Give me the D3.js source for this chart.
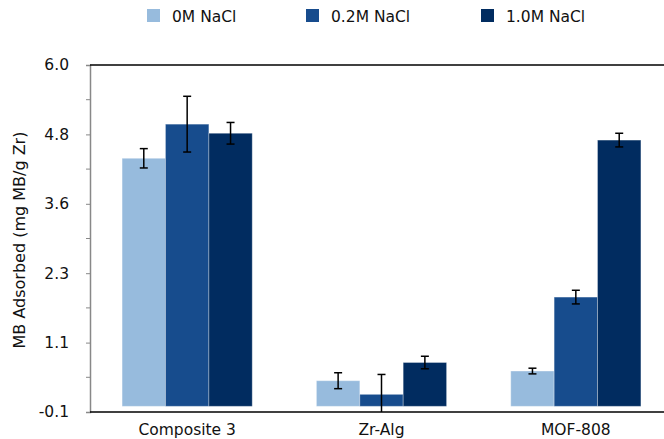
<!DOCTYPE html>
<html><head><meta charset="utf-8">
<script src="https://cdn.jsdelivr.net/npm/d3@7"></script>
<style>
body{margin:0;background:#fff;}
text{font-family:"DejaVu Sans",Verdana,sans-serif;fill:#111;}
</style></head>
<body><svg id="c" width="664" height="439"></svg>
<script>
const categories = ["Composite 3", "Zr-Alg", "MOF-808"];
const seriesNames = ["0M NaCl", "0.2M NaCl", "1.0M NaCl"];
const seriesColors = ["#97bbdd", "#174c8d", "#012c60"];
const values0M   = [4.36, 0.45, 0.62];
const values02M  = [4.96, 0.21, 1.92];
const values10M  = [4.80, 0.77, 4.68];
const err0M  = [0.17, 0.14, 0.05];
const err02M = [0.49, 0.35, 0.12];
const err10M = [0.19, 0.11, 0.12];
const yTickValues = [-0.1, 1.12, 2.34, 3.56, 4.78, 6.0];
const yTickLabels = ["-0.1", "1.1", "2.3", "3.6", "4.8", "6.0"];

const seriesVals = [values0M, values02M, values10M];
const seriesErr = [err0M, err02M, err10M];

const svg = d3.select("#c");
const mLeft = 90, mRight = 673, mTop = 65, mBottom = 412;

const x0 = d3.scaleBand().domain(categories).range([mLeft, mRight]).paddingInner(0).paddingOuter(0);
const x1 = d3.scaleBand().domain(seriesNames).range([0, x0.bandwidth()]).paddingOuter(0.74).paddingInner(0);
const y = d3.scaleLinear().domain([-0.1, 6.0]).range([mBottom, mTop]).clamp(true);

// bars
const data = [];
categories.forEach((c, ci) => seriesNames.forEach((s, si) => {
  data.push({c, s, si, v: seriesVals[si][ci], e: seriesErr[si][ci]});
}));

svg.append("g").selectAll("rect").data(data).join("rect")
  .attr("x", d => x0(d.c) + x1(d.s))
  .attr("width", x1.bandwidth())
  .attr("y", d => y(d.v))
  .attr("height", d => y(0) - y(d.v))
  .attr("fill", d => seriesColors[d.si])
  .attr("stroke", "rgba(255,255,255,0.3)")
  .attr("stroke-width", 1);

// error bars
const eg = svg.append("g").attr("stroke", "#000").attr("stroke-width", 1.5);
data.forEach(d => {
  const cx = x0(d.c) + x1(d.s) + x1.bandwidth() / 2;
  const yt = y(d.v + d.e), yb = y(d.v - d.e);
  eg.append("line").attr("x1", cx).attr("x2", cx).attr("y1", yt).attr("y2", yb);
  eg.append("line").attr("x1", cx - 4).attr("x2", cx + 4).attr("y1", yt).attr("y2", yt);
  if (d.v - d.e > -0.1) eg.append("line").attr("x1", cx - 4).attr("x2", cx + 4).attr("y1", yb).attr("y2", yb);
});

// y axis
const yAxis = d3.axisLeft(y).tickValues(yTickValues).tickFormat((d, i) => yTickLabels[i]).tickSize(4).tickPadding(17);
const ga = svg.append("g").attr("transform", `translate(${mLeft},0)`).call(yAxis);
ga.select(".domain").attr("stroke", "#888").attr("stroke-width", 1.5);
ga.selectAll(".tick line").attr("stroke", "#888");
ga.selectAll(".tick text").attr("font-size", 15.5).attr("fill", "#111")
  .attr("font-family", "'DejaVu Sans',Verdana,sans-serif");
const minor = d3.range(5).map(i => (yTickValues[i] + yTickValues[i + 1]) / 2);
svg.append("g").selectAll("line").data(minor).join("line")
  .attr("x1", mLeft - 4).attr("x2", mLeft).attr("y1", d => y(d)).attr("y2", d => y(d))
  .attr("stroke", "#888");

// frame lines top and bottom
svg.append("line").attr("x1", mLeft).attr("x2", 664).attr("y1", mTop).attr("y2", mTop).attr("stroke", "#000").attr("stroke-width", 1.5);
svg.append("line").attr("x1", mLeft).attr("x2", 664).attr("y1", mBottom).attr("y2", mBottom).attr("stroke", "#000").attr("stroke-width", 1.5);

// x labels
svg.append("g").selectAll("text").data(categories).join("text")
  .attr("x", d => x0(d) + x0.bandwidth() / 2).attr("y", 435)
  .attr("text-anchor", "middle").attr("font-size", 15.5).text(d => d);

// y title
svg.append("text").attr("transform", "translate(25,240) rotate(-90)")
  .attr("text-anchor", "middle").attr("font-size", 16).text("MB Adsorbed (mg MB/g Zr)");

// legend
const legX = [147, 306, 481];
const lg = svg.append("g");
seriesNames.forEach((s, i) => {
  lg.append("rect").attr("x", legX[i]).attr("y", 9).attr("width", 13).attr("height", 13).attr("fill", seriesColors[i]);
  lg.append("text").attr("x", legX[i] + 25).attr("y", 21.5).attr("font-size", 15.5).text(s);
});
</script></body></html>
